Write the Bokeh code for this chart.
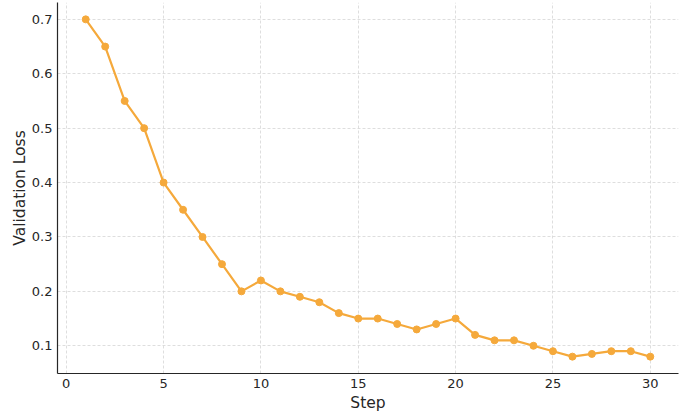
from bokeh.plotting import figure
from bokeh.models import Range1d, FixedTicker, PrintfTickFormatter
from bokeh.embed import file_html
from bokeh.resources import INLINE

steps = list(range(1, 31))
val_loss = [0.70, 0.65, 0.55, 0.50, 0.40, 0.35, 0.30, 0.25, 0.20, 0.22,
            0.20, 0.19, 0.18, 0.16, 0.15, 0.15, 0.14, 0.13, 0.14, 0.15,
            0.12, 0.11, 0.11, 0.10, 0.09, 0.08, 0.085, 0.09, 0.09, 0.08]
x_ticks = [0, 5, 10, 15, 20, 25, 30]
y_ticks = [0.1, 0.2, 0.3, 0.4, 0.5, 0.6, 0.7]

color = "#F5A93B"
text_color = "#262626"
font = "DejaVu Sans"

p = figure(frame_width=621, frame_height=371, output_backend="svg", toolbar_location=None,
           x_range=Range1d(-0.45, 31.45), y_range=Range1d(0.049, 0.731),
           min_border_left=57, min_border_right=4, min_border_top=2,
           min_border_bottom=30)
p.outline_line_color = None
p.background_fill_color = "white"

p.line(steps, val_loss, line_color=color, line_width=2.2)
p.scatter(steps, val_loss, size=7, fill_color=color, line_color=color)

for ax in (p.xaxis[0], p.yaxis[0]):
    ax.axis_line_color = text_color
    ax.axis_line_width = 1.2
    ax.major_tick_in = 0
    ax.major_tick_out = 0
    ax.minor_tick_line_color = None
    ax.major_tick_line_color = None
    ax.major_label_text_font = font
    ax.major_label_text_font_size = "13px"
    ax.major_label_text_color = text_color
    ax.axis_label_text_font = font
    ax.axis_label_text_font_size = "15.5px"
    ax.axis_label_text_font_style = "normal"
    ax.axis_label_text_color = text_color

p.xaxis.ticker = FixedTicker(ticks=x_ticks)
p.yaxis.ticker = FixedTicker(ticks=y_ticks)
p.yaxis.formatter = PrintfTickFormatter(format="%.1f")
p.xaxis.axis_label = "Step"
p.yaxis.axis_label = "Validation Loss"
p.xaxis.major_label_standoff = 5
p.yaxis.major_label_standoff = 5
p.xaxis.axis_label_standoff = 3
p.yaxis.axis_label_standoff = 0

p.grid.grid_line_color = "#d6d6d6"
p.grid.grid_line_width = 0.8
p.grid.grid_line_dash = "3 2"

open("out.html", "w").write(file_html(p, INLINE))
